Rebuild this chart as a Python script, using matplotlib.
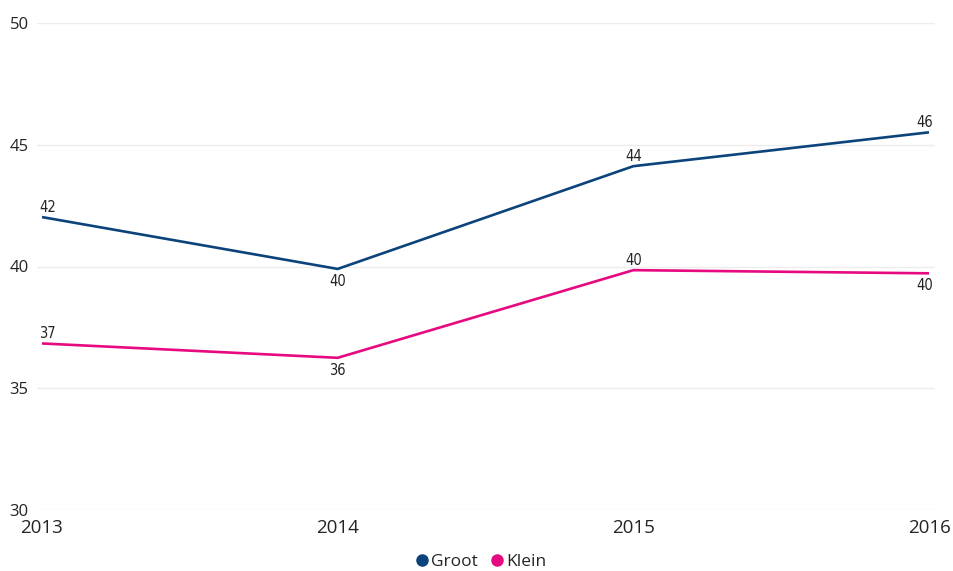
import matplotlib
matplotlib.use("Agg")
import matplotlib.pyplot as plt
from matplotlib.lines import Line2D

years = [2013, 2014, 2015, 2016]
groot = [42.03, 39.9, 44.12, 45.51]
klein = [36.84, 36.25, 39.85, 39.72]
groot_pos = ["above", "below", "above", "above"]
klein_pos = ["above", "below", "above", "below"]
series_names = ["Groot", "Klein"]
colors = ["#0B437A", "#E6097F"]
yticks = [30, 35, 40, 45, 50]

plt.rcParams['font.family'] = ['Open Sans', 'DejaVu Sans']

fig = plt.figure(figsize=(9.54, 5.71), dpi=100)
ax = fig.add_axes([37/954, 1-510/571, (935-37)/954, (510-23)/571])

for vals, pos, c in [(groot, groot_pos, colors[0]), (klein, klein_pos, colors[1])]:
    ax.plot(years, vals, color=c, lw=1.9, solid_capstyle='butt', zorder=3)
    for i, (x, v, p) in enumerate(zip(years, vals, pos)):
        dx = 0
        if i == 0:
            dx = 4
        elif i == len(years) - 1:
            dx = -3
        dy = 7 if p == "above" else -9
        ax.annotate(f"{round(v):d}", (x, v), xytext=(dx, dy), textcoords='offset points',
                    ha='center', va='center', fontsize=10.5, color='#252423',
                    family='DejaVu Sans', fontstretch='condensed', zorder=4)

ax.set_xlim(2013 - 5/295.7, 2016 + 6/295.7)
ax.set_ylim(30, 50)
ax.set_yticks(yticks)
ax.set_xticks(years)
ax.set_xticklabels([str(y) for y in years], fontsize=13.5, color='#252423')
ax.tick_params(axis='y', labelsize=12, length=0, pad=6)
ax.tick_params(axis='x', length=0, pad=6.5, labelcolor='#252423')
for lab in ax.get_yticklabels():
    lab.set_color('#252423')
ax.grid(axis='y', color='#EDEDED', lw=1)
ax.set_axisbelow(True)
for s in ax.spines.values():
    s.set_visible(False)

handles = [Line2D([], [], ls='none', marker='o', ms=8, color=c) for c in colors]
fig.legend(handles, series_names, loc='center', bbox_to_anchor=(0.503, 1-562/571),
           ncol=2, frameon=False, fontsize=12.5, handletextpad=0.0,
           columnspacing=0.6, handlelength=1.0, labelcolor='#252423')

fig.savefig("out.png", dpi=100)
